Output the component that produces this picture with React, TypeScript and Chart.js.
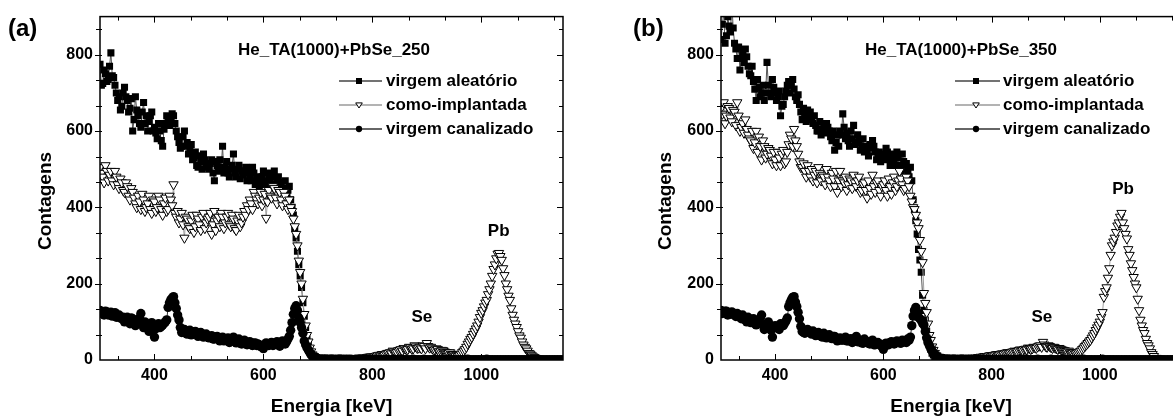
import React, { useEffect, useRef } from 'react';
import { Chart, registerables } from 'chart.js';

Chart.register(...registerables);

// ---------- DATA ----------
// Main channel grid (keV)
const energiaKeV = [
  300, 305, 310, 315, 320, 325, 330, 335, 340, 345,
  350, 355, 360, 365, 370, 375, 380, 385, 390, 395,
  400, 405, 410, 415, 420, 425, 430, 435, 440, 445,
  450, 455, 460, 465, 470, 475, 480, 485, 490, 495,
  500, 505, 510, 515, 520, 525, 530, 535, 540, 545,
  550, 555, 560, 565, 570, 575, 580, 585, 590, 595,
  600, 605, 610, 615, 620, 625, 630, 635, 640, 645,
  650, 655, 660, 665, 670, 675, 680, 685, 690, 695,
  700, 705, 710, 715, 720, 725, 730, 735, 740, 745,
  750, 755, 760, 765, 770, 775, 780, 785, 790, 795,
  800, 805, 810, 815, 820, 825, 830, 835, 840, 845,
  850, 855, 860, 865, 870, 875, 880, 885, 890, 895,
  900, 905, 910, 915, 920, 925, 930, 935, 940, 945,
  950, 955, 960, 965, 970, 975, 980, 985, 990, 995,
  1000, 1005, 1010, 1015, 1020, 1025, 1030, 1035, 1040, 1045,
  1050, 1055, 1060, 1065, 1070, 1075, 1080, 1085, 1090, 1095,
  1100, 1105, 1110, 1115, 1120, 1125, 1130, 1135, 1140, 1145,
  1150,
];
// Intermediate channels in the dense part of the spectrum (keV)
const energiaMeioKeV = [
  302.5, 307.5, 312.5, 317.5, 322.5, 327.5, 332.5, 337.5, 342.5, 347.5,
  352.5, 357.5, 362.5, 367.5, 372.5, 377.5, 382.5, 387.5, 392.5, 397.5,
  402.5, 407.5, 412.5, 417.5, 422.5, 427.5, 432.5, 437.5, 442.5, 447.5,
  452.5, 457.5, 462.5, 467.5, 472.5, 477.5, 482.5, 487.5, 492.5, 497.5,
  502.5, 507.5, 512.5, 517.5, 522.5, 527.5, 532.5, 537.5, 542.5, 547.5,
  552.5, 557.5, 562.5, 567.5, 572.5, 577.5, 582.5, 587.5, 592.5, 597.5,
  602.5, 607.5, 612.5, 617.5, 622.5, 627.5, 632.5, 637.5, 642.5, 647.5,
  652.5, 657.5, 662.5, 667.5, 672.5, 677.5, 682.5, 687.5, 692.5, 697.5,
];
// Intermediate channels over the Se and Pb signals (keV)
const energiaPicoKeV = [
  782.5, 787.5, 792.5, 797.5, 802.5, 807.5, 812.5, 817.5, 822.5, 827.5,
  832.5, 837.5, 842.5, 847.5, 852.5, 857.5, 862.5, 867.5, 872.5, 877.5,
  882.5, 887.5, 892.5, 897.5, 902.5, 907.5, 912.5, 917.5, 922.5, 927.5,
  932.5, 937.5, 942.5, 947.5, 952.5, 957.5, 962.5, 967.5, 972.5, 977.5,
  982.5, 987.5, 992.5, 997.5, 1002.5, 1007.5, 1012.5, 1017.5, 1022.5, 1027.5,
  1032.5, 1037.5, 1042.5, 1047.5, 1052.5, 1057.5, 1062.5, 1067.5, 1072.5, 1077.5,
  1082.5, 1087.5, 1092.5, 1097.5,
];

const seriesLabels = ['virgem aleatório', 'como-implantada', 'virgem canalizado'];

// ----- Panel (a): He_TA(1000)+PbSe_250 -----
const aAleatorio = [
  775, 725, 750, 735, 805, 740, 700, 690, 665, 715,
  680, 660, 600, 690, 640, 610, 675, 640, 625, 650,
  610, 580, 600, 560, 620, 635, 625, 640, 600, 570,
  560, 600, 570, 555, 525, 545, 505, 520, 540, 515,
  500, 525, 470, 510, 525, 560, 505, 490, 500, 540,
  480, 510, 495, 495, 470, 485, 505, 460, 480, 465,
  495, 470, 485, 455, 495, 470, 455, 440, 470, 445,
  420, 380, 320, 250, 190, 115, 55, 25, 10, 5,
  4, 3, 3, 2, 3, 2, 2, 3, 2, 2,
  2, 1, 2, 2, 1, 2, 2, 1, 2, 1,
  1, 2, 1, 1, 2, 1, 1, 2, 1, 1,
  1, 1, 2, 1, 1, 1, 2, 1, 1, 1,
  1, 2, 1, 1, 1, 1, 1, 2, 1, 1,
  1, 1, 1, 1, 2, 1, 1, 1, 1, 1,
  1, 1, 1, 2, 1, 1, 1, 1, 1, 1,
  1, 1, 1, 1, 1, 1, 1, 1, 1, 1,
  1, 1, 1, 1, 1, 1, 1, 1, 1, 1,
  1,
];
const aAleatorioMeio = [
  720, 760, 730, 770, 745, 720, 680, 655, 700, 690,
  650, 685, 630, 655, 620, 650, 620, 600, 640, 600,
  595, 620, 575, 605, 640, 615, 645, 620, 585, 555,
  585, 560, 540, 565, 530, 510, 535, 500, 525, 505,
  515, 490, 520, 495, 505, 490, 520, 480, 510, 490,
  500, 475, 485, 505, 490, 470, 490, 475, 455, 480,
  460, 490, 470, 480, 460, 480, 465, 450, 430, 455,
  400, 345, 285, 220, 150, 85, 40, 16, 7, 4,
];
const aImplantada = [
  505, 480, 510, 470, 495, 460, 480, 450, 465, 440,
  455, 420, 440, 410, 430, 395, 420, 400, 430, 385,
  415, 400, 420, 380, 425, 395, 420, 460, 375, 360,
  385, 320, 370, 345, 380, 350, 370, 340, 385, 360,
  375, 330, 390, 365, 350, 375, 360, 385, 350, 370,
  340, 380, 360, 390, 405, 420, 395, 430, 410, 440,
  420, 372, 445, 425, 450, 410, 440, 405, 430, 395,
  400, 370, 330, 260, 200, 120, 65, 32, 14, 6,
  3, 3, 2, 3, 2, 3, 2, 3, 2, 3,
  3, 4, 3, 4, 5, 4, 5, 6, 7, 8,
  9, 10, 12, 11, 14, 16, 18, 17, 22, 20,
  26, 24, 30, 28, 33, 30, 35, 32, 30, 36,
  44, 32, 30, 27, 28, 24, 25, 20, 18, 16,
  14, 13, 12, 20, 28, 42, 55, 68, 82, 100,
  123, 140, 157, 185, 220, 250, 278, 272, 240, 200,
  168, 135, 105, 86, 64, 48, 34, 24, 16, 9,
  5, 3, 2, 2, 1, 1, 1, 1, 0, 0,
  0,
];
const aImplantadaMeio = [
  490, 465, 495, 485, 470, 495, 460, 475, 445, 465,
  430, 450, 425, 400, 415, 435, 390, 410, 395, 420,
  390, 430, 395, 410, 390, 430, 405, 385, 390, 370,
  355, 375, 350, 365, 335, 380, 355, 375, 345, 370,
  385, 355, 340, 375, 385, 345, 375, 355, 380, 345,
  365, 350, 375, 380, 395, 410, 440, 420, 425, 405,
  435, 415, 430, 455, 425, 445, 420, 440, 410, 420,
  390, 350, 300, 230, 160, 90, 48, 22, 10, 4,
];
const aImplantadaPico = [
  6, 5, 8, 9, 8, 11, 13, 15, 13, 18,
  20, 24, 19, 25, 28, 31, 27, 34, 29, 38,
  31, 34, 38, 30, 36, 34, 26, 30, 22, 26,
  22, 19, 20, 15, 11, 10, 16, 24, 34, 48,
  60, 75, 90, 112, 130, 150, 172, 200, 238, 266,
  280, 262, 222, 185, 157, 118, 95, 75, 58, 40,
  30, 18, 12, 7,
];
const aCanalizado = [
  130, 122, 128, 118, 125, 120, 112, 118, 108, 100,
  112, 95, 108, 90, 100, 122, 85, 92, 75, 98,
  60, 90, 85, 92, 100, 138, 158, 166, 135, 105,
  72, 80, 68, 78, 70, 75, 62, 72, 60, 68,
  58, 64, 55, 62, 50, 60, 52, 58, 48, 60,
  45, 55, 42, 52, 40, 48, 38, 45, 42, 35,
  30, 45, 38, 46, 40, 48, 36, 50, 42, 55,
  78, 120, 142, 110, 85, 50, 32, 20, 10, 6,
  4, 3, 3, 3, 2, 3, 2, 2, 3, 2,
  2, 2, 2, 1, 2, 2, 1, 2, 2, 1,
  2, 1, 2, 1, 1, 2, 1, 1, 2, 1,
  1, 2, 1, 1, 1, 2, 1, 1, 1, 2,
  1, 1, 1, 2, 1, 1, 1, 1, 2, 1,
  1, 1, 1, 1, 1, 2, 1, 1, 1, 1,
  1, 1, 2, 1, 1, 1, 1, 1, 1, 1,
  1, 1, 1, 1, 1, 1, 1, 1, 1, 1,
  1, 1, 1, 1, 1, 1, 1, 1, 1, 1,
  1,
];
const aCanalizadoMeio = [
  124, 118, 126, 122, 115, 124, 116, 110, 112, 105,
  102, 110, 96, 104, 110, 95, 100, 82, 88, 78,
  82, 95, 88, 96, 105, 150, 162, 150, 118, 85,
  78, 70, 76, 66, 74, 68, 70, 64, 66, 62,
  60, 55, 60, 54, 56, 50, 56, 46, 52, 50,
  48, 44, 50, 42, 46, 40, 44, 38, 40, 36,
  40, 42, 44, 38, 45, 42, 46, 44, 48, 62,
  98, 135, 130, 98, 70, 40, 26, 14, 8, 5,
];

// ----- Panel (b): He_TA(1000)+PbSe_350 -----
const bAleatorio = [
  840, 910, 850, 875, 935, 830, 790, 760, 805, 815,
  770, 745, 730, 680, 715, 700, 680, 780, 700, 735,
  700, 690, 640, 670, 705, 730, 720, 710, 680, 670,
  630, 640, 655, 650, 620, 615, 600, 590, 615, 620,
  600, 575, 550, 590, 600, 645, 580, 575, 600, 615,
  570, 575, 560, 545, 550, 565, 575, 545, 530, 520,
  540, 555, 530, 520, 525, 545, 510, 540, 500, 490,
  505, 420, 365, 290, 230, 130, 75, 38, 18, 9,
  5, 4, 3, 3, 2, 3, 2, 2, 3, 2,
  2, 2, 1, 2, 2, 1, 2, 1, 2, 2,
  1, 2, 1, 2, 1, 1, 2, 1, 1, 2,
  1, 1, 2, 1, 1, 1, 1, 2, 1, 1,
  2, 1, 1, 1, 2, 1, 1, 1, 1, 1,
  1, 2, 1, 1, 1, 1, 2, 1, 1, 1,
  1, 1, 1, 1, 2, 1, 1, 1, 1, 1,
  1, 1, 1, 1, 1, 1, 1, 1, 1, 1,
  1, 1, 1, 1, 1, 1, 1, 1, 1, 1,
  1,
];
const bAleatorioMeio = [
  880, 830, 900, 860, 870, 815, 820, 790, 780, 795,
  750, 770, 710, 735, 690, 720, 700, 720, 690, 715,
  680, 705, 665, 690, 720, 700, 735, 690, 695, 650,
  660, 625, 640, 630, 640, 600, 625, 605, 595, 610,
  585, 600, 570, 560, 590, 610, 595, 560, 580, 565,
  590, 550, 580, 560, 535, 555, 560, 525, 545, 535,
  525, 545, 510, 540, 510, 530, 495, 520, 515, 480,
  470, 395, 330, 262, 170, 105, 55, 28, 13, 7,
];
const bImplantada = [
  660, 675, 640, 660, 625, 650, 675, 600, 620, 630,
  590, 575, 555, 600, 585, 525, 560, 540, 550, 515,
  525, 545, 510, 550, 520, 565, 580, 605, 560, 520,
  505, 495, 510, 480, 470, 495, 505, 470, 480, 500,
  470, 490, 455, 440, 495, 470, 480, 460, 470, 485,
  455, 480, 445, 465, 425, 450, 485, 440, 470, 430,
  460, 445, 475, 435, 480, 455, 495, 460, 450, 470,
  430, 400, 380, 345, 285, 175, 125, 65, 35, 18,
  8, 5, 4, 3, 3, 3, 2, 3, 3, 3,
  4, 4, 5, 5, 6, 7, 8, 9, 10, 11,
  12, 13, 15, 14, 17, 18, 20, 19, 22, 23,
  25, 26, 28, 27, 31, 30, 33, 35, 38, 47,
  36, 38, 33, 34, 30, 31, 27, 25, 22, 20,
  18, 17, 20, 24, 32, 40, 48, 58, 70, 85,
  100, 125, 180, 215, 275, 310, 335, 360, 385, 345,
  318, 275, 235, 200, 160, 105, 78, 55, 38, 20,
  10, 5, 3, 2, 2, 1, 1, 1, 1, 0,
  0,
];
const bImplantadaMeio = [
  645, 620, 665, 635, 655, 615, 640, 610, 595, 605,
  580, 600, 570, 545, 560, 575, 530, 555, 535, 545,
  510, 530, 540, 515, 545, 590, 560, 575, 540, 505,
  515, 480, 495, 500, 485, 465, 490, 485, 460, 480,
  455, 475, 495, 470, 455, 465, 445, 475, 450, 465,
  470, 440, 460, 445, 470, 435, 455, 465, 445, 455,
  470, 430, 455, 465, 445, 470, 475, 445, 480, 455,
  415, 395, 360, 314, 256, 149, 95, 52, 26, 12,
];
const bImplantadaPico = [
  7, 10, 9, 12, 11, 14, 13, 16, 15, 19,
  18, 21, 24, 22, 27, 25, 29, 32, 28, 34,
  31, 37, 34, 40, 34, 36, 31, 32, 28, 29,
  26, 23, 24, 19, 20, 18, 22, 28, 36, 44,
  52, 64, 78, 92, 112, 165, 190, 240, 300, 320,
  352, 375, 360, 330, 290, 253, 217, 190, 130, 90,
  70, 44, 30, 15,
];
const bCanalizado = [
  130, 125, 128, 120, 126, 118, 122, 112, 118, 105,
  112, 98, 108, 92, 100, 118, 80, 95, 88, 60,
  90, 85, 95, 90, 102, 140, 158, 166, 140, 108,
  75, 70, 80, 72, 76, 64, 72, 62, 70, 58,
  66, 56, 62, 50, 58, 52, 60, 50, 56, 48,
  62, 50, 45, 55, 48, 42, 52, 40, 46, 38,
  28, 44, 40, 48, 42, 50, 45, 52, 48, 55,
  60, 115, 138, 112, 104, 92, 58, 38, 24, 14,
  8, 5, 4, 3, 3, 2, 3, 2, 2, 3,
  2, 2, 2, 1, 2, 1, 2, 2, 1, 2,
  1, 2, 1, 1, 2, 1, 2, 1, 1, 1,
  2, 1, 1, 2, 1, 1, 1, 2, 1, 1,
  1, 1, 2, 1, 1, 1, 2, 1, 1, 1,
  1, 1, 1, 1, 2, 1, 1, 1, 1, 1,
  1, 2, 1, 1, 1, 1, 1, 1, 1, 1,
  1, 1, 1, 1, 1, 1, 1, 1, 1, 1,
  1, 1, 1, 1, 1, 1, 1, 1, 1, 1,
  1,
];
const bCanalizadoMeio = [
  122, 128, 118, 124, 120, 114, 118, 108, 110, 100,
  104, 106, 95, 98, 110, 92, 86, 100, 78, 84,
  88, 80, 92, 96, 110, 150, 164, 152, 125, 88,
  72, 78, 74, 68, 72, 66, 68, 60, 64, 62,
  58, 62, 54, 56, 52, 56, 50, 54, 46, 52,
  48, 52, 44, 48, 44, 46, 40, 44, 42, 36,
  42, 40, 46, 44, 46, 48, 44, 50, 46, 52,
  90, 130, 125, 108, 96, 75, 46, 30, 18, 10,
];

const xTickStep = 200;
const yTickStep = 200;
const xRange = [300, 1150];
const yRange = [0, 900];

// ---------- STYLE ----------
const FONT = '"Liberation Sans", Arial, Helvetica, sans-serif';
const W = 1173;
const H = 416;

type Part = [number[], number[]];

type PanelCfg = {
  letter: string;
  sample: string;
  canvasLeft: number;
  canvasWidth: number;
  padRight: number;
  letterX: number;
  yTitleX: number;
  sampleX: number;
  legLine0: number;
  legMarker: number;
  legLine1: number;
  legText: number;
  pb: [number, number];
  se: [number, number];
  series: Part[][];
};

const panels: PanelCfg[] = [
  {
    letter: '(a)', sample: 'He_TA(1000)+PbSe_250',
    canvasLeft: 0, canvasWidth: 600, padRight: 37,
    letterX: 8, yTitleX: 46, sampleX: 238,
    legLine0: 339, legMarker: 359, legLine1: 382, legText: 386,
    pb: [1032, 337], se: [891, 112],
    series: [
      [[energiaKeV, aAleatorio], [energiaMeioKeV, aAleatorioMeio]],
      [[energiaKeV, aImplantada], [energiaMeioKeV, aImplantadaMeio], [energiaPicoKeV, aImplantadaPico]],
      [[energiaKeV, aCanalizado], [energiaMeioKeV, aCanalizadoMeio]],
    ],
  },
  {
    letter: '(b)', sample: 'He_TA(1000)+PbSe_350',
    canvasLeft: 621, canvasWidth: 600, padRight: 40,
    letterX: 12, yTitleX: 45, sampleX: 244,
    legLine0: 334, legMarker: 355, legLine1: 379, legText: 382,
    pb: [1043, 447], se: [893, 112],
    series: [
      [[energiaKeV, bAleatorio], [energiaMeioKeV, bAleatorioMeio]],
      [[energiaKeV, bImplantada], [energiaMeioKeV, bImplantadaMeio], [energiaPicoKeV, bImplantadaPico]],
      [[energiaKeV, bCanalizado], [energiaMeioKeV, bCanalizadoMeio]],
    ],
  },
];

const legendLineColors = ['#444', '#9a9a9a', '#333'];

function mergeParts(parts: Part[]) {
  const pts: { x: number; y: number }[] = [];
  parts.forEach(([xs, ys]) => xs.forEach((x, i) => pts.push({ x, y: ys[i] })));
  pts.sort((a, b) => a.x - b.x);
  return pts;
}

function drawMarker(ctx: CanvasRenderingContext2D, kind: number, x: number, y: number, s: number) {
  ctx.beginPath();
  if (kind === 0) {
    ctx.fillStyle = '#000';
    ctx.fillRect(x - s, y - s, 2 * s, 2 * s);
  } else if (kind === 1) {
    ctx.moveTo(x - s * 1.1, y - s * 0.7);
    ctx.lineTo(x + s * 1.1, y - s * 0.7);
    ctx.lineTo(x, y + s * 1.0);
    ctx.closePath();
    ctx.fillStyle = '#fff';
    ctx.fill();
    ctx.lineWidth = 1;
    ctx.strokeStyle = '#000';
    ctx.stroke();
  } else {
    ctx.arc(x, y, s * 1.05, 0, Math.PI * 2);
    ctx.fillStyle = '#000';
    ctx.fill();
  }
}

const decorPlugin = {
  id: 'decor',
  afterDatasetsDraw(chart: any, _args: any, o: any) {
    const { ctx, chartArea: ca, scales } = chart;
    const xs = scales.x;
    const ys = scales.y;
    ctx.save();
    ctx.strokeStyle = '#000';
    ctx.lineWidth = 1;
    const line = (x1: number, y1: number, x2: number, y2: number) => {
      ctx.beginPath();
      ctx.moveTo(x1, y1);
      ctx.lineTo(x2, y2);
      ctx.stroke();
    };
    // x ticks (major every 200, two minors between)
    const xMinor = xTickStep / 3;
    for (let n = Math.ceil(xRange[0] / xMinor); n * xMinor < xRange[1]; n++) {
      const v = n * xMinor;
      if (v <= xRange[0]) continue;
      const px = Math.round(xs.getPixelForValue(v)) + 0.5;
      const len = n % 3 === 0 ? 6 : 4;
      line(px, ca.bottom, px, ca.bottom - len);
      line(px, ca.top, px, ca.top + len);
    }
    const yMinor = yTickStep / 3;
    for (let n = 1; n * yMinor < yRange[1]; n++) {
      const v = n * yMinor;
      const py = Math.round(ys.getPixelForValue(v)) + 0.5;
      const major = n % 3 === 0;
      line(ca.left - (major ? 5 : 4), py, ca.left + 2, py);
      line(ca.right, py, ca.right - (major ? 6 : 4), py);
    }
    // frame
    ctx.lineWidth = 1.5;
    ctx.strokeRect(ca.left, ca.top, ca.right - ca.left, ca.bottom - ca.top);

    // texts
    ctx.fillStyle = '#000';
    ctx.textBaseline = 'middle';
    ctx.textAlign = 'left';
    ctx.font = `bold 24px ${FONT}`;
    ctx.fillText(o.letter, o.letterX, 29);

    ctx.font = `bold 17px ${FONT}`;
    ctx.fillText(o.sample, o.sampleX, 50);

    // legend
    const rows = [81, 105, 129];
    chart.data.datasets.forEach((ds: any, i: number) => {
      const y = rows[i];
      ctx.strokeStyle = legendLineColors[i];
      ctx.lineWidth = 1.5;
      line(o.legLine0, y, o.legLine1, y);
      drawMarker(ctx, i, o.legMarker, y, 3);
      ctx.fillStyle = '#000';
      ctx.font = `bold 17px ${FONT}`;
      ctx.textAlign = 'left';
      ctx.textBaseline = 'middle';
      ctx.fillText(ds.label, o.legText, y);
    });

    // peak labels at data positions
    ctx.textAlign = 'center';
    ctx.font = `bold 17px ${FONT}`;
    ctx.fillText('Pb', xs.getPixelForValue(o.pb[0]), ys.getPixelForValue(o.pb[1]));
    ctx.fillText('Se', xs.getPixelForValue(o.se[0]), ys.getPixelForValue(o.se[1]));

    // y title
    ctx.save();
    ctx.translate(o.yTitleX, 201);
    ctx.rotate(-Math.PI / 2);
    ctx.font = `bold 19px ${FONT}`;
    ctx.textAlign = 'center';
    ctx.textBaseline = 'middle';
    ctx.fillText('Contagens', 0, 0);
    ctx.restore();

    ctx.restore();
  },
};

function buildConfig(p: PanelCfg): any {
  const tickFont = { family: FONT, size: 16, weight: 'bold' as const };
  const plain = (v: any) => String(v);
  return {
    type: 'scatter',
    data: {
      datasets: [
        {
          label: seriesLabels[0],
          data: mergeParts(p.series[0]),
          showLine: true,
          borderColor: '#555',
          borderWidth: 1,
          pointStyle: 'rect',
          pointRadius: 5,
          pointBackgroundColor: '#000',
          pointBorderColor: '#000',
          pointBorderWidth: 0,
          order: 3,
        },
        {
          label: seriesLabels[1],
          data: mergeParts(p.series[1]),
          showLine: true,
          borderColor: '#a0a0a0',
          borderWidth: 1,
          pointStyle: 'triangle',
          pointRotation: 180,
          pointRadius: 5.4,
          pointBackgroundColor: '#fff',
          pointBorderColor: '#000',
          pointBorderWidth: 1,
          order: 2,
        },
        {
          label: seriesLabels[2],
          data: mergeParts(p.series[2]),
          showLine: true,
          borderColor: '#333',
          borderWidth: 1,
          pointStyle: 'circle',
          pointRadius: 4.7,
          pointBackgroundColor: '#000',
          pointBorderColor: '#000',
          pointBorderWidth: 0,
          order: 1,
        },
      ],
    },
    options: {
      animation: false,
      responsive: false,
      maintainAspectRatio: false,
      events: [],
      layout: { padding: { left: 0, top: 16, right: p.padRight, bottom: 0 } },
      plugins: {
        legend: { display: false },
        tooltip: { enabled: false },
        decor: p,
      },
      scales: {
        x: {
          type: 'linear',
          min: xRange[0],
          max: xRange[1],
          grid: { display: false, drawTicks: false },
          border: { display: false },
          ticks: {
            stepSize: xTickStep,
            includeBounds: false,
            maxRotation: 0,
            autoSkip: false,
            padding: 6,
            color: '#000',
            font: tickFont,
            callback: plain,
          },
          title: {
            display: true,
            text: 'Energia [keV]',
            color: '#000',
            font: { family: FONT, size: 19, weight: 'bold', lineHeight: 1 },
            padding: { top: 0, bottom: 0 },
          },
          afterFit: (s: any) => { s.height = 56; },
        },
        y: {
          type: 'linear',
          min: yRange[0],
          max: yRange[1],
          grid: { display: false, drawTicks: false },
          border: { display: false },
          ticks: {
            stepSize: yTickStep,
            includeBounds: false,
            padding: 7,
            color: '#000',
            font: tickFont,
            callback: plain,
          },
          afterFit: (s: any) => { s.width = 100; },
        },
      },
    },
    plugins: [decorPlugin],
  };
}

function Panel({ p }: { p: PanelCfg }) {
  const ref = useRef<HTMLCanvasElement>(null);
  useEffect(() => {
    if (!ref.current) return;
    const chart = new Chart(ref.current, buildConfig(p));
    return () => chart.destroy();
  }, [p]);
  return (
    <canvas
      ref={ref}
      width={p.canvasWidth}
      height={H}
      style={{ position: 'absolute', left: p.canvasLeft, top: 0, width: p.canvasWidth, height: H }}
    />
  );
}

export default function App() {
  return (
    <div
      style={{
        position: 'fixed', left: 0, top: 0, width: W, height: H,
        overflow: 'hidden', background: '#fff',
      }}
    >
      {panels.map((p) => <Panel key={p.letter} p={p} />)}
    </div>
  );
}
